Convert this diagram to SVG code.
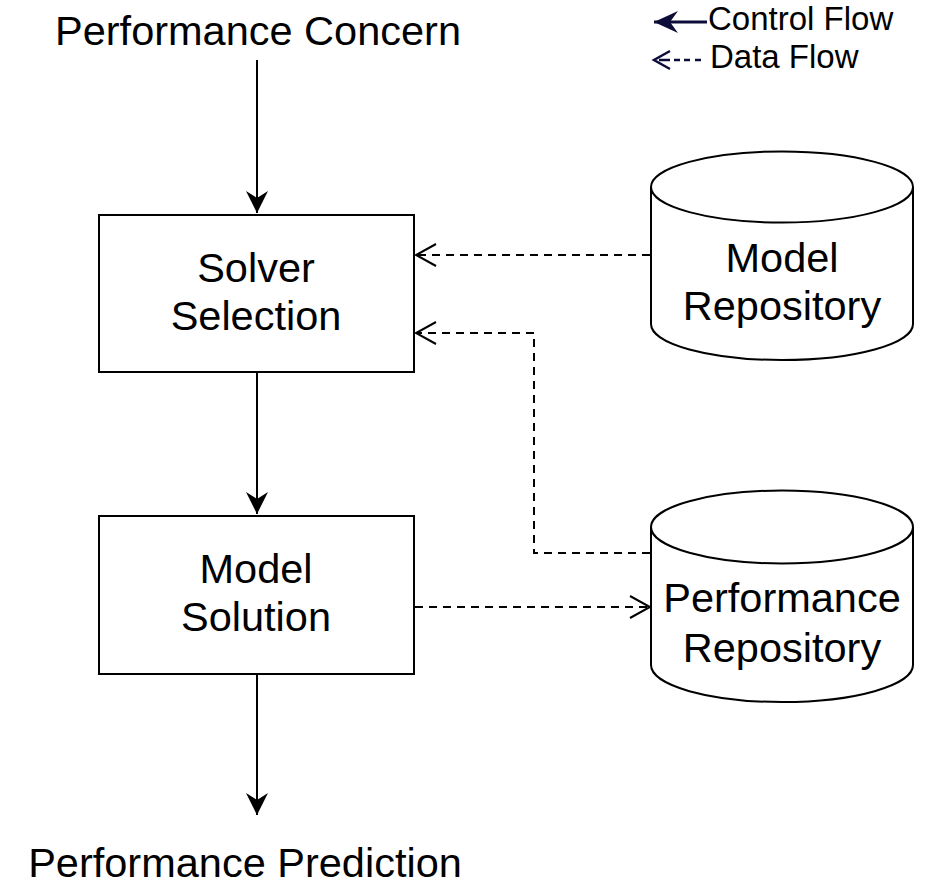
<svg xmlns="http://www.w3.org/2000/svg" width="925" height="887" viewBox="0 0 925 887">
<defs>
<style>
text{font-family:"Liberation Sans",Arial,Helvetica,sans-serif;fill:#000;text-anchor:middle}
.big{font-size:41.5px}
.leg{font-size:33px;text-anchor:start}
.shape{fill:#fff;stroke:#000;stroke-width:2}
.ctl{fill:none;stroke:#000;stroke-width:2}
.dat{fill:none;stroke:#000;stroke-width:2;stroke-dasharray:8 6}
</style>
<marker id="solid" viewBox="-24 -12 26 24" refX="0" refY="0" markerWidth="26" markerHeight="24" markerUnits="userSpaceOnUse" orient="auto">
<path d="M0,0 L-22,-11 L-15,0 L-22,11 Z" fill="#000"/>
</marker>
<marker id="open" viewBox="-24 -14 26 28" refX="0" refY="0" markerWidth="26" markerHeight="28" markerUnits="userSpaceOnUse" orient="auto">
<path d="M-20,-11 L0,0 L-20,11" fill="none" stroke="#000" stroke-width="2"/>
</marker>
<marker id="solidNavy" viewBox="-26 -13 28 26" refX="0" refY="0" markerWidth="28" markerHeight="26" markerUnits="userSpaceOnUse" orient="auto">
<path d="M0,0 L-24,-11 L-16,0 L-24,11 Z" fill="#0d0d3a"/>
</marker>
</defs>
<rect width="925" height="887" fill="#fff"/>

<g id="legend">
<line x1="707" y1="22" x2="654" y2="22" stroke="#0d0d3a" stroke-width="3" marker-end="url(#solidNavy)"/>
<text class="leg" x="708" y="30">Control Flow</text>
<path d="M670,51 L654,60 L670,69" fill="none" stroke="#0d0d3a" stroke-width="2.5"/>
<path d="M659,60 H670 M674,60 H680 M684,60 H690 M695,60 H701" fill="none" stroke="#0d0d3a" stroke-width="2.5"/>
<text class="leg" x="710" y="68">Data Flow</text>
</g>

<g id="connectors">
<line class="ctl" x1="257" y1="60" x2="257" y2="213" marker-end="url(#solid)"/>
<line class="ctl" x1="257" y1="372" x2="257" y2="514" marker-end="url(#solid)"/>
<line class="ctl" x1="257" y1="674" x2="257" y2="815" marker-end="url(#solid)"/>
<line class="dat" x1="650" y1="255" x2="416" y2="255" marker-end="url(#open)"/>
<polyline class="dat" points="650,553 534,553 534,333 416,333" marker-end="url(#open)"/>
<line class="dat" x1="415" y1="607" x2="650" y2="607" marker-end="url(#open)"/>
</g>

<g id="concern">
<text class="big" x="258" y="45">Performance Concern</text>
</g>

<g id="solver-selection">
<rect class="shape" x="99" y="215" width="315" height="157"/>
<text class="big" x="256" y="282">Solver</text>
<text class="big" x="256" y="330">Selection</text>
</g>

<g id="model-solution">
<rect class="shape" x="99" y="516" width="315" height="158"/>
<text class="big" x="256" y="583">Model</text>
<text class="big" x="256" y="631">Solution</text>
</g>

<g id="model-repository">
<path class="shape" d="M651,187 A131,35.5 0 0 1 913,187 L913,324 A131,36 0 0 1 651,324 Z"/>
<path class="ctl" d="M651,187 A131,35.5 0 0 0 913,187"/>
<text class="big" x="782" y="272">Model</text>
<text class="big" x="782" y="320">Repository</text>
</g>

<g id="performance-repository">
<path class="shape" d="M651,527 A131,36.5 0 0 1 913,527 L913,665 A131,37 0 0 1 651,665 Z"/>
<path class="ctl" d="M651,527 A131,36.5 0 0 0 913,527"/>
<text class="big" x="782" y="612">Performance</text>
<text class="big" x="782" y="662">Repository</text>
</g>

<g id="prediction">
<text class="big" x="245" y="877">Performance Prediction</text>
</g>
</svg>
